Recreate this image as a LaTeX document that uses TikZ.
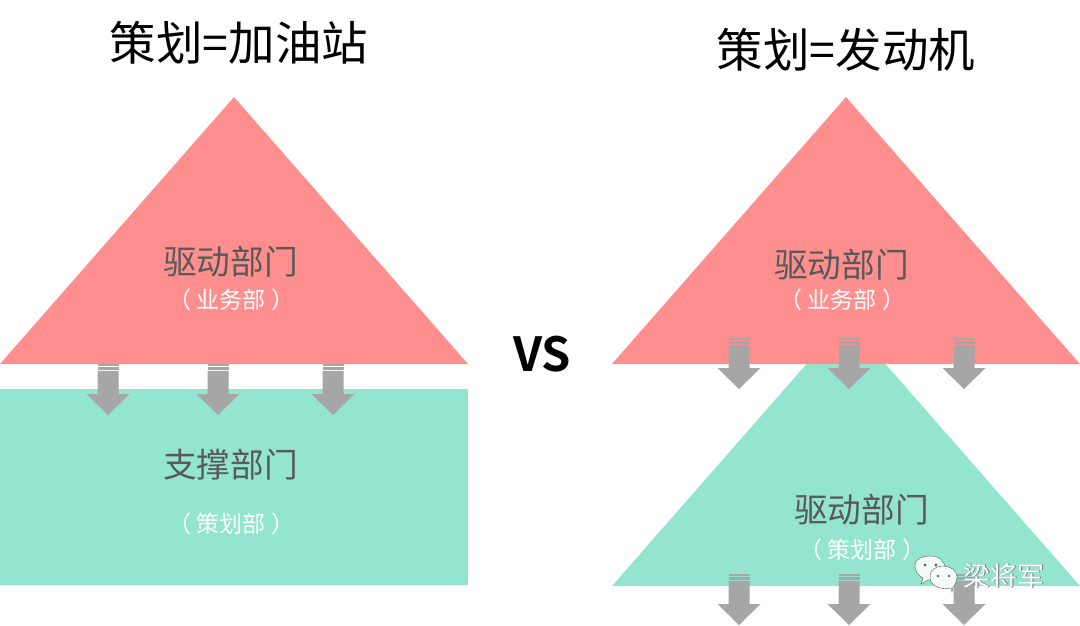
\documentclass[tikz,border=0pt]{standalone}
\usepackage{fontspec}
\setmainfont{Noto Sans CJK SC}
\newfontfamily\boldlatin{Noto Sans CJK SC Bold}
\definecolor{pinkfill}{HTML}{FF8F8F}
\definecolor{greenfill}{HTML}{93E5CF}
\definecolor{arrowgrey}{HTML}{A6A6A6}
\definecolor{labelgrey}{HTML}{595959}
\newcommand{\fsz}[1]{\fontsize{#1}{#1}\selectfont}
\tikzset{
  x=1pt,y=-1pt,
  pinkshape/.style={fill=pinkfill,draw=none},
  greenshape/.style={fill=greenfill,draw=none},
  titletext/.style={inner sep=0pt,text=black,font=\fsz{46.5}},
  maintext/.style={inner sep=0pt,text=labelgrey,font=\fsz{33.7}},
  subtext/.style={inner sep=0pt,text=white,font=\fsz{23}},
  bubble/.style={fill=white!90!greenfill,draw=black!55,line width=0.5pt},
  downarrow/.pic={
    \fill[arrowgrey] (-10.5,0) rectangle (10.5,2);
    \fill[arrowgrey] (-10.5,3.2) rectangle (10.5,5.6);
    \fill[arrowgrey] (-10.5,6.8) -- (10.5,6.8) -- (10.5,30) -- (21.5,30) -- (0,51) -- (-21.5,30) -- (-10.5,30) -- cycle;
  }
}
\begin{document}
\begin{tikzpicture}
\useasboundingbox (0,0) rectangle (1080,625);
\fill[white] (0,0) rectangle (1080,625);
% left
\fill[pinkshape] (234,97) -- (468,364) -- (0,364) -- cycle;
\fill[greenshape] (0,389) rectangle (468,585);
% right
\fill[greenshape] (846,319) -- (1080,586) -- (612,586) -- cycle;
\fill[pinkshape] (846,97) -- (1080,364) -- (612,364) -- cycle;
% arrows
\foreach \ax in {108,218,333} \pic at (\ax,364) {downarrow};
\foreach \ax in {739,849,964} \pic at (\ax,338) {downarrow};
\foreach \ax in {739,849,964} \pic at (\ax,574) {downarrow};
% titles
\node[titletext] (titleL) at (239,43) {策划=加油站};
\node[titletext] (titleR) at (846,50) {策划=发动机};
\node[inner sep=0pt,font=\boldlatin\fsz{47}] (vs) at (542,354) {VS};
% labels
\node[maintext] (driveL) at (230.5,262) {驱动部门};
\node[subtext] (subL) at (231.5,300) {（ 业务部 ）};
\node[maintext] (support) at (230.5,465) {支撑部门};
\node[subtext] (subS) at (231.5,524) {（ 策划部 ）};
\node[maintext] (driveR) at (841.5,265) {驱动部门};
\node[subtext] (subR) at (842.5,300) {（ 业务部 ）};
\node[maintext] (driveG) at (861.5,510) {驱动部门};
\node[subtext] (subG) at (862.5,550) {（ 策划部 ）};
% watermark
\draw[bubble] (921,584) -- (923,578) .. controls (917,575) and (915,570) .. (915,566) .. controls (915,558) and (923,556) .. (930,556) .. controls (938,556) and (945,560) .. (945,568) .. controls (945,576) and (936,580) .. (928,580) -- cycle;
\fill[black!60] (925,565) circle (1.6) (936,565) circle (1.6);
\draw[bubble] (952,592) -- (951,588) .. controls (942,590) and (930,587) .. (930,577) .. controls (930,569) and (937,566) .. (943,566) .. controls (950,566) and (957,570) .. (957,577) .. controls (957,582) and (954,586) .. (953,587) -- cycle;
\fill[black!60] (938,576) circle (1.4) (949,576) circle (1.4);
\node[inner sep=0pt,text=black!55,font=\fsz{27}] (markS) at (1004.7,576.7) {梁将军};
\node[inner sep=0pt,text=white,font=\fsz{27}] (mark) at (1004,576) {梁将军};
\end{tikzpicture}
\end{document}
